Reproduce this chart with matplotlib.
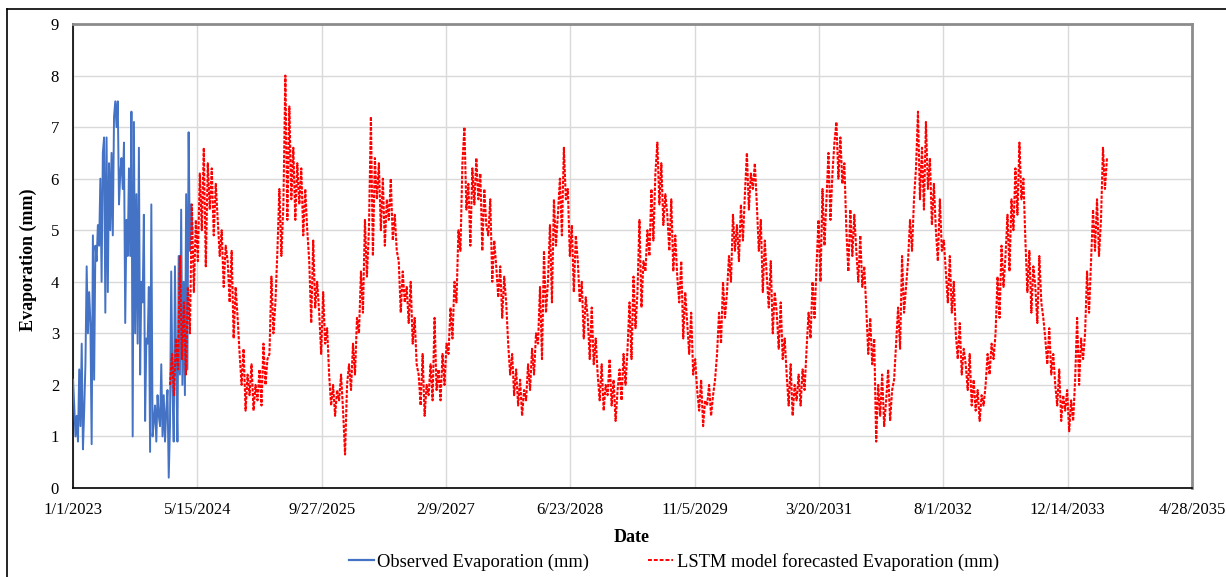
import numpy as np
import pandas as pd
import matplotlib
matplotlib.use("Agg")
import matplotlib.pyplot as plt
from matplotlib.lines import Line2D

# observed evaporation, one reading every 5 days from 1/1/2023
obs_start = "2023-01-01"
obs_step_days = 5
observed = [
    2.1, 1.6, 1.0, 1.4, 0.9, 2.3, 1.2, 2.8, 0.75, 1.5,
    2.4, 4.3, 3.0, 3.8, 3.2, 0.85, 4.9, 2.1, 4.7, 4.4,
    5.1, 4.7, 6.0, 4.0, 6.5, 6.8, 3.4, 6.8, 3.8, 6.3,
    5.0, 6.5, 4.9, 7.2, 7.5, 7.0, 7.5, 5.5, 6.1, 6.4,
    5.8, 6.7, 3.2, 5.2, 4.5, 6.2, 4.5, 7.3, 1.0, 7.1,
    3.0, 5.7, 2.8, 6.6, 2.2, 4.0, 3.6, 5.3, 1.3, 2.9,
    2.8, 3.9, 0.7, 5.5, 1.0, 1.3, 1.6, 0.9, 1.8, 1.4,
    1.2, 2.4, 1.0, 1.8, 0.9, 1.5, 1.9, 0.2, 1.2, 4.2,
    2.0, 0.9, 4.3, 2.3, 0.9, 4.5, 2.2, 5.4, 2.0, 4.0,
    1.8, 5.7, 2.3, 6.9, 4.6, 5.5, 5.0,
]

# LSTM forecast, one value every 8 days from 1/26/2024
lstm_start = "2024-01-26"
lstm_step_days = 8
lstm_2024 = [
    2.0, 2.6, 1.8, 2.9, 2.3, 4.5, 2.5, 3.6, 2.2, 3.9,
    3.0, 5.5, 3.8, 5.2, 4.4, 6.1, 5.0, 6.6, 4.3, 6.3,
    5.4, 6.2, 4.9, 5.9, 5.2, 4.5, 5.0, 3.9, 4.7, 4.4,
    3.6, 4.6, 2.9, 3.9, 3.3, 2.6, 2.0, 2.7, 1.5, 2.2,
    1.8, 2.4, 1.5, 2.0, 1.7, 2.3, 1.6, 2.8, 2.0, 2.5,
]
lstm_2025 = [
    2.6, 4.1, 3.0, 3.6, 4.6, 5.8, 4.5, 5.5, 8.0, 5.2,
    7.4, 5.6, 6.6, 5.2, 6.3, 5.5, 6.2, 4.9, 5.8, 5.0,
    4.4, 3.2, 4.8, 3.5, 4.0, 3.4, 2.6, 3.8, 2.8, 3.1,
    2.2, 1.6, 2.0, 1.4, 1.9, 1.7, 2.2, 1.5, 0.65, 2.0,
    2.4, 1.9, 2.8, 2.2, 3.3,
]
lstm_2026 = [
    3.0, 4.2, 3.4, 5.2, 4.1, 5.0, 7.2, 4.5, 6.4, 5.6,
    6.3, 5.0, 6.0, 4.7, 5.6, 5.2, 6.0, 4.8, 5.3, 4.6,
    4.4, 3.4, 4.2, 3.6, 3.9, 3.2, 4.0, 2.8, 3.3, 2.4,
    2.2, 1.6, 2.6, 1.4, 2.0, 1.8, 2.4, 1.7, 3.3, 1.9,
    2.3, 1.7, 2.6, 2.0, 2.8,
]
lstm_2027 = [
    2.6, 3.5, 2.9, 4.0, 3.6, 5.0, 4.6, 6.3, 7.0, 5.4,
    5.9, 4.7, 6.2, 5.5, 6.4, 5.6, 6.1, 4.6, 5.8, 5.1,
    4.9, 5.6, 4.0, 4.8, 4.3, 3.7, 4.3, 3.3, 4.1, 3.6,
    2.8, 2.2, 2.6, 1.8, 2.3, 1.6, 2.1, 1.4, 1.9, 1.7,
    2.4, 1.9, 2.7, 2.2, 3.0,
]
lstm_2028 = [
    2.8, 3.9, 2.5, 4.6, 3.4, 4.0, 5.1, 3.6, 5.6, 4.7,
    5.3, 6.0, 4.9, 6.6, 5.6, 5.8, 4.5, 5.1, 3.8, 4.9,
    4.4, 3.6, 4.0, 2.9, 3.7, 3.3, 2.5, 3.5, 2.4, 2.9,
    2.2, 1.7, 2.4, 1.5, 2.0, 1.8, 2.5, 1.6, 2.1, 1.3,
    1.9, 2.3, 1.7, 2.6, 2.0,
]
lstm_2029 = [
    2.7, 3.6, 2.5, 4.1, 3.1, 3.8, 5.2, 3.5, 4.4, 4.2,
    5.0, 4.5, 5.8, 4.8, 6.1, 6.7, 5.5, 6.3, 5.1, 5.7,
    5.3, 4.6, 5.6, 4.2, 4.9, 4.1, 3.6, 4.4, 2.9, 3.8,
    3.2, 2.6, 3.4, 2.2, 2.5, 1.9, 1.5, 2.1, 1.2, 1.7,
    1.6, 2.0, 1.4, 1.8, 2.1,
]
lstm_2030 = [
    2.6, 3.4, 2.8, 4.0, 3.3, 3.8, 4.5, 4.0, 5.3, 4.6,
    5.1, 4.4, 5.5, 4.8, 5.7, 6.5, 5.4, 6.1, 5.8, 6.3,
    5.5, 4.6, 5.2, 3.8, 4.8, 4.1, 3.5, 4.4, 3.0, 3.8,
    3.4, 2.7, 3.6, 2.5, 2.9, 2.2, 1.6, 2.4, 1.4, 2.0,
    1.7, 2.2, 1.6, 2.3, 1.9,
]
lstm_2031 = [
    2.7, 3.4, 2.9, 4.0, 3.3, 4.3, 5.2, 4.0, 5.8, 4.7,
    5.6, 6.5, 5.2, 6.1, 6.7, 7.1, 6.0, 6.8, 5.9, 6.3,
    5.0, 4.2, 5.4, 4.5, 5.3, 4.6, 4.0, 4.9, 3.9, 4.3,
    3.5, 2.6, 3.3, 2.4, 2.9, 0.9, 2.0, 1.4, 2.2, 1.2,
    1.7, 2.3, 1.3, 1.9, 2.1,
]
lstm_2032 = [
    2.8, 3.5, 2.7, 4.5, 3.4, 3.9, 4.4, 5.2, 4.6, 5.6,
    6.2, 7.3, 5.6, 6.6, 5.4, 7.1, 5.8, 6.4, 5.1, 5.9,
    5.0, 4.4, 5.6, 4.6, 4.8, 4.2, 3.6, 4.5, 3.4, 4.0,
    3.0, 2.5, 3.2, 2.2, 2.7, 2.4, 1.9, 2.6, 1.6, 2.1,
    1.5, 1.9, 1.3, 1.8, 1.6,
]
lstm_2033 = [
    2.0, 2.6, 2.2, 2.8, 2.5, 3.0, 4.1, 3.3, 4.7, 3.9,
    4.5, 5.3, 4.2, 5.6, 5.0, 6.2, 5.3, 6.7, 5.6, 6.0,
    4.8, 3.8, 4.6, 3.4, 4.3, 3.9, 3.2, 4.5, 3.6, 3.3,
    2.9, 2.4, 3.1, 2.2, 2.6, 2.0, 1.6, 2.3, 1.3, 1.8,
    1.5, 1.9, 1.1, 1.7, 1.3,
]
lstm_2034 = [
    2.1, 3.3, 2.0, 2.9, 2.5, 3.0, 4.2, 3.4, 4.4, 5.4,
    4.6, 5.6, 4.5, 5.2, 6.6, 5.8, 6.4,
]
lstm = (lstm_2024 + lstm_2025 + lstm_2026 + lstm_2027 + lstm_2028 + lstm_2029
        + lstm_2030 + lstm_2031 + lstm_2032 + lstm_2033 + lstm_2034)

tick_dates = ["2023-01-01", "2024-05-15", "2025-09-27", "2027-02-09", "2028-06-23",
              "2029-11-05", "2031-03-20", "2032-08-01", "2033-12-14", "2035-04-28"]
tick_labels = ["1/1/2023", "5/15/2024", "9/27/2025", "2/9/2027", "6/23/2028",
               "11/5/2029", "3/20/2031", "8/1/2032", "12/14/2033", "4/28/2035"]

obs_dates = pd.date_range(obs_start, periods=len(observed), freq=f"{obs_step_days}D")
lstm_dates = pd.date_range(lstm_start, periods=len(lstm), freq=f"{lstm_step_days}D")

plt.rcParams["font.family"] = ["Liberation Serif", "DejaVu Serif"]

W, H = 1226, 577
fig = plt.figure(figsize=(W / 100, H / 100), dpi=100)
ax = fig.add_axes([73 / W, 1 - 488 / H, (1192 - 73) / W, (488 - 24) / H])

ax.plot(obs_dates, observed, color="#4472C4", lw=1.4, zorder=3)
ax.plot(lstm_dates, lstm, color="#FF0000", lw=1.5, linestyle=(0, (1.6, 0.7)), zorder=4)

ax.set_xlim(pd.Timestamp(tick_dates[0]), pd.Timestamp(tick_dates[-1]))
ax.set_ylim(0, 9)
ax.set_xticks([pd.Timestamp(d) for d in tick_dates])
ax.set_xticklabels(tick_labels)
ax.set_yticks(range(10))
ax.tick_params(axis="both", length=0, labelsize=12, colors="black")
ax.tick_params(axis="x", pad=10)
ax.tick_params(axis="y", pad=10)
ax.grid(True, color="#D9D9D9", lw=1.0)
ax.set_axisbelow(True)

for side in ["left", "bottom"]:
    ax.spines[side].set_color("black")
    ax.spines[side].set_linewidth(1.2)
for side in ["top", "right"]:
    ax.spines[side].set_color("#8C8C8C")
    ax.spines[side].set_linewidth(2.0)

fig.text(632 / W, 1 - 537 / H, "Date", ha="center", va="center",
         fontsize=13, fontweight="bold")
fig.text(28 / W, 1 - 260 / H, "Evaporation (mm)", ha="center", va="center",
         rotation=90, fontsize=13, fontweight="bold")

handles = [
    Line2D([], [], color="#4472C4", lw=1.6),
    Line2D([], [], color="#FF0000", lw=1.4, linestyle=(0, (2, 1))),
]
fig.legend(handles, ["Observed Evaporation (mm)", "LSTM model forecasted Evaporation (mm)"],
           loc="center", bbox_to_anchor=(674 / W, 1 - 562 / H), ncol=2, frameon=False,
           fontsize=13.3, handlelength=1.35, handletextpad=0.2, columnspacing=3.2)

# outer frame: top and left edges only
fig.add_artist(Line2D([7 / W, 1], [1 - 9 / H, 1 - 9 / H], color="black", lw=1.2))
fig.add_artist(Line2D([7 / W, 7 / W], [0, 1 - 9 / H], color="black", lw=1.2))

fig.savefig("out.png", dpi=100)
